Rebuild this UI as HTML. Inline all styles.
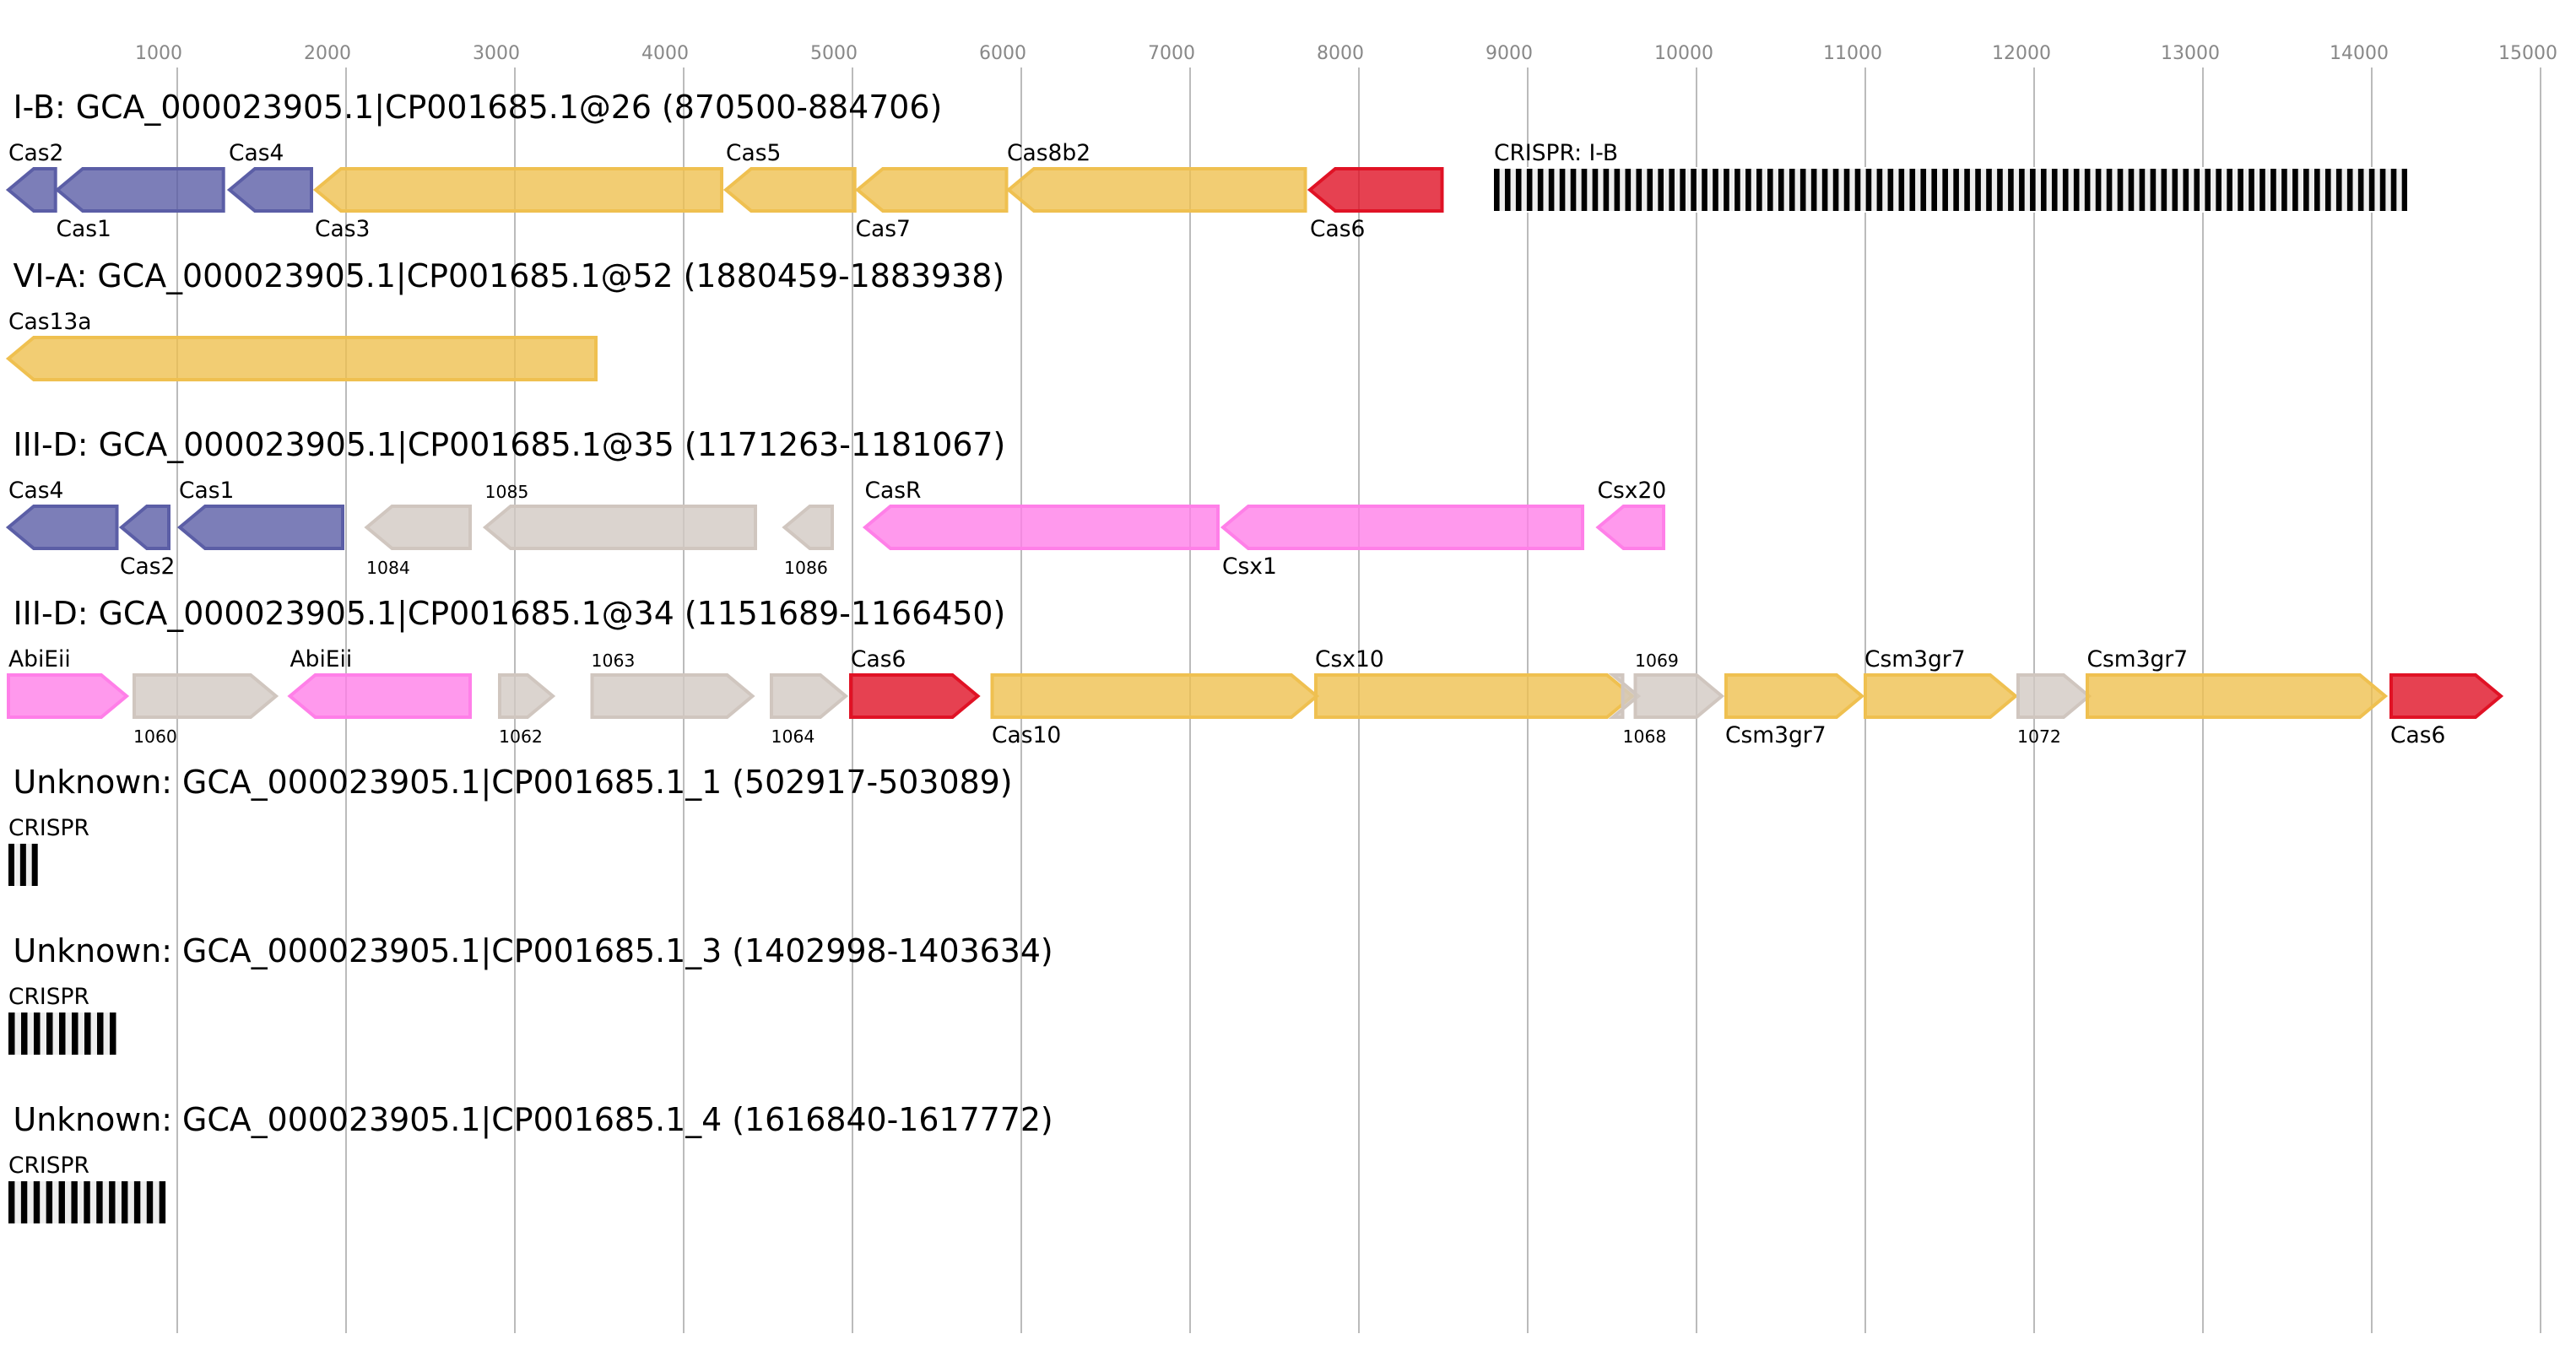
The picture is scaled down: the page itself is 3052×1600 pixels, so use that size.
<!DOCTYPE html>
<html>
<head>
<meta charset="utf-8">
<title>CRISPR loci diagram</title>
<style>
html,body{margin:0;padding:0;background:#fff;}
svg{display:block;}
text{font-family:"DejaVu Sans","Liberation Sans",sans-serif;fill:#000;}
.ax{font-size:22px;fill:#888;}
.t{font-size:37.87px;}
.l{font-size:26.5px;}
.n{font-size:20.4px;}
.grid line{stroke:#bbb;stroke-width:2;}
polygon{stroke-width:4;fill-opacity:.8;stroke-linejoin:miter;}
.b{fill:#5b5ea6;stroke:#5b5ea6;}
.y{fill:#efc050;stroke:#efc050;}
.r{fill:#e01225;stroke:#e01225;}
.p{fill:#ff7fe8;stroke:#ff7fe8;}
.g{fill:#d2c9c3;stroke:#d0c6bf;}
</style>
</head>
<body>
<svg width="3052" height="1600" viewBox="0 0 3052 1600" xmlns="http://www.w3.org/2000/svg">
<rect width="3052" height="1600" fill="#fff"/>

<g class="grid">
<line x1="210" y1="80" x2="210" y2="1580"/>
<line x1="410" y1="80" x2="410" y2="1580"/>
<line x1="610" y1="80" x2="610" y2="1580"/>
<line x1="810" y1="80" x2="810" y2="1580"/>
<line x1="1010" y1="80" x2="1010" y2="1580"/>
<line x1="1210" y1="80" x2="1210" y2="1580"/>
<line x1="1410" y1="80" x2="1410" y2="1580"/>
<line x1="1610" y1="80" x2="1610" y2="1580"/>
<line x1="1810" y1="80" x2="1810" y2="1580"/>
<line x1="2010" y1="80" x2="2010" y2="1580"/>
<line x1="2210" y1="80" x2="2210" y2="1580"/>
<line x1="2410" y1="80" x2="2410" y2="1580"/>
<line x1="2610" y1="80" x2="2610" y2="1580"/>
<line x1="2810" y1="80" x2="2810" y2="1580"/>
<line x1="3010" y1="80" x2="3010" y2="1580"/>
</g>

<g>
<text class="ax" x="160" y="70">1000</text>
<text class="ax" x="360" y="70">2000</text>
<text class="ax" x="560" y="70">3000</text>
<text class="ax" x="760" y="70">4000</text>
<text class="ax" x="960" y="70">5000</text>
<text class="ax" x="1160" y="70">6000</text>
<text class="ax" x="1360" y="70">7000</text>
<text class="ax" x="1560" y="70">8000</text>
<text class="ax" x="1760" y="70">9000</text>
<text class="ax" x="1960" y="70">10000</text>
<text class="ax" x="2160" y="70">11000</text>
<text class="ax" x="2360" y="70">12000</text>
<text class="ax" x="2560" y="70">13000</text>
<text class="ax" x="2760" y="70">14000</text>
<text class="ax" x="2960" y="70">15000</text>
</g>

<!-- Track 1 -->
<text class="t" x="15.5" y="140">I-B: GCA_000023905.1|CP001685.1@26 (870500-884706)</text>
<polygon class="b" points="10,225 40,200 65.7,200 65.7,250 40,250"/>
<polygon class="b" points="68,225 98,200 264.7,200 264.7,250 98,250"/>
<polygon class="b" points="272,225 302,200 369,200 369,250 302,250"/>
<polygon class="y" points="374,225 404,200 855,200 855,250 404,250"/>
<polygon class="y" points="860,225 890,200 1012.7,200 1012.7,250 890,250"/>
<polygon class="y" points="1016,225 1046,200 1192.5,200 1192.5,250 1046,250"/>
<polygon class="y" points="1195,225 1225,200 1546.5,200 1546.5,250 1225,250"/>
<polygon class="r" points="1552,225 1582,200 1708.5,200 1708.5,250 1582,250"/>
<rect x="1766" y="198" width="1090" height="54" fill="#fff"/>
<rect x="1770" y="200" width="1082" height="50" fill="#eee"/>
<line x1="1770" y1="225" x2="2852" y2="225" stroke="#000" stroke-width="50" stroke-dasharray="6.6 6.36"/>
<text class="l" x="10" y="190">Cas2</text>
<text class="l" x="66.5" y="280">Cas1</text>
<text class="l" x="271" y="190">Cas4</text>
<text class="l" x="373" y="280">Cas3</text>
<text class="l" x="860" y="190">Cas5</text>
<text class="l" x="1013.5" y="280">Cas7</text>
<text class="l" x="1193" y="190">Cas8b2</text>
<text class="l" x="1552" y="280">Cas6</text>
<text class="l" x="1770" y="190">CRISPR: I-B</text>

<!-- Track 2 -->
<text class="t" x="15.5" y="340">VI-A: GCA_000023905.1|CP001685.1@52 (1880459-1883938)</text>
<polygon class="y" points="10,425 40,400 706,400 706,450 40,450"/>
<text class="l" x="10" y="390">Cas13a</text>

<!-- Track 3 -->
<text class="t" x="15.5" y="540">III-D: GCA_000023905.1|CP001685.1@35 (1171263-1181067)</text>
<polygon class="b" points="10,625 40,600 138.5,600 138.5,650 40,650"/>
<polygon class="b" points="144,625 174,600 200,600 200,650 174,650"/>
<polygon class="b" points="213,625 243,600 406,600 406,650 243,650"/>
<polygon class="g" points="434.5,625 464.5,600 557,600 557,650 464.5,650"/>
<polygon class="g" points="575,625 605,600 895,600 895,650 605,650"/>
<polygon class="g" points="929.5,625 959.5,600 986,600 986,650 959.5,650"/>
<polygon class="p" points="1025,625 1055,600 1443,600 1443,650 1055,650"/>
<polygon class="p" points="1449,625 1479,600 1875,600 1875,650 1479,650"/>
<polygon class="p" points="1893.5,625 1923.5,600 1971,600 1971,650 1923.5,650"/>
<text class="l" x="10" y="590">Cas4</text>
<text class="l" x="142" y="680">Cas2</text>
<text class="l" x="212" y="590">Cas1</text>
<text class="n" x="434" y="680">1084</text>
<text class="n" x="574.5" y="590">1085</text>
<text class="n" x="929" y="680">1086</text>
<text class="l" x="1024.5" y="590">CasR</text>
<text class="l" x="1448" y="680">Csx1</text>
<text class="l" x="1892.5" y="590">Csx20</text>

<!-- Track 4 -->
<text class="t" x="15.5" y="740">III-D: GCA_000023905.1|CP001685.1@34 (1151689-1166450)</text>
<polygon class="p" points="10,800 120,800 150,825 120,850 10,850"/>
<polygon class="g" points="159,800 297,800 327,825 297,850 159,850"/>
<polygon class="p" points="343.5,825 373.5,800 557,800 557,850 373.5,850"/>
<polygon class="g" points="592,800 625,800 655,825 625,850 592,850"/>
<polygon class="g" points="701.5,800 861.5,800 891.5,825 861.5,850 701.5,850"/>
<polygon class="g" points="914,800 972,800 1002,825 972,850 914,850"/>
<polygon class="r" points="1008,800 1128.5,800 1158.5,825 1128.5,850 1008,850"/>
<polygon class="y" points="1175.5,800 1530,800 1560,825 1530,850 1175.5,850"/>
<polygon class="y" points="1559,800 1904,800 1934,825 1904,850 1559,850"/>
<polygon class="g" points="1922.5,800 1911,800 1941,825 1911,850 1922.5,850"/>
<polygon class="g" points="1937.5,800 2010,800 2040,825 2010,850 1937.5,850"/>
<polygon class="y" points="2045,800 2176,800 2206,825 2176,850 2045,850"/>
<polygon class="y" points="2210,800 2358,800 2388,825 2358,850 2210,850"/>
<polygon class="g" points="2391,800 2445,800 2475,825 2445,850 2391,850"/>
<polygon class="y" points="2473,800 2796,800 2826,825 2796,850 2473,850"/>
<polygon class="r" points="2833,800 2933,800 2963,825 2933,850 2833,850"/>
<text class="l" x="10" y="790">AbiEii</text>
<text class="n" x="158" y="880">1060</text>
<text class="l" x="343.5" y="790">AbiEii</text>
<text class="n" x="591" y="880">1062</text>
<text class="n" x="700.5" y="790">1063</text>
<text class="n" x="913.5" y="880">1064</text>
<text class="l" x="1008" y="790">Cas6</text>
<text class="l" x="1175" y="880">Cas10</text>
<text class="l" x="1558" y="790">Csx10</text>
<text class="n" x="1922.5" y="880">1068</text>
<text class="n" x="1937" y="790">1069</text>
<text class="l" x="2044" y="880">Csm3gr7</text>
<text class="l" x="2209" y="790">Csm3gr7</text>
<text class="n" x="2390" y="880">1072</text>
<text class="l" x="2472.5" y="790">Csm3gr7</text>
<text class="l" x="2832" y="880">Cas6</text>

<!-- Track 5 -->
<text class="t" x="15.5" y="940">Unknown: GCA_000023905.1|CP001685.1_1 (502917-503089)</text>
<text class="l" x="10" y="990">CRISPR</text>
<rect x="10" y="1000" width="34.7" height="50" fill="#eee"/>
<line x1="10" y1="1025" x2="44.7" y2="1025" stroke="#000" stroke-width="50" stroke-dasharray="7 6.85"/>

<!-- Track 6 -->
<text class="t" x="15.5" y="1140">Unknown: GCA_000023905.1|CP001685.1_3 (1402998-1403634)</text>
<text class="l" x="10" y="1190">CRISPR</text>
<rect x="10" y="1200" width="127.5" height="50" fill="#eee"/>
<line x1="10" y1="1225" x2="137.5" y2="1225" stroke="#000" stroke-width="50" stroke-dasharray="7.5 7.5"/>

<!-- Track 7 -->
<text class="t" x="15.5" y="1340">Unknown: GCA_000023905.1|CP001685.1_4 (1616840-1617772)</text>
<text class="l" x="10" y="1390">CRISPR</text>
<rect x="10" y="1400" width="186.7" height="50" fill="#eee"/>
<line x1="10" y1="1425" x2="196.7" y2="1425" stroke="#000" stroke-width="50" stroke-dasharray="7.4 7.49"/>
</svg>
</body>
</html>
